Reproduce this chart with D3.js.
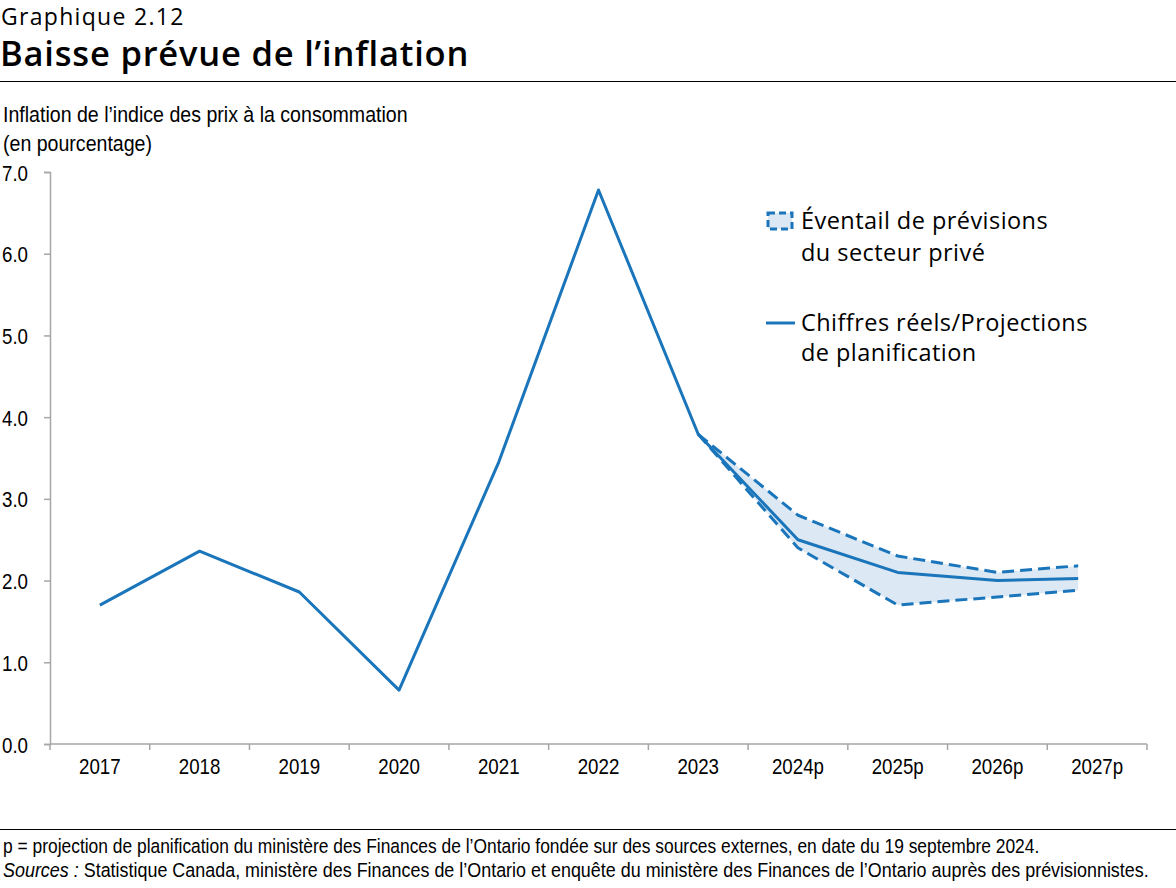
<!DOCTYPE html>
<html><head><meta charset="utf-8">
<script src="https://cdn.jsdelivr.net/npm/d3@7"></script>
<style>
html,body{margin:0;padding:0;background:#fff;}
svg{display:block;}
.narrow{font-family:"Liberation Sans",Arial,sans-serif;}
.geo{font-family:"Open Sans","Lato",sans-serif;}
</style></head>
<body>
<svg id="c" width="1176" height="888"></svg>
<script>
const categories = ["2017","2018","2019","2020","2021","2022","2023","2024p","2025p","2026p","2027p"];
const actualValues = [1.70, 2.36, 1.86, 0.66, 3.45, 6.78, 3.79, 2.50, 2.10, 2.00, 2.03];
const rangeCategories = ["2023","2024p","2025p","2026p","2027p"];
const rangeHigh = [3.79, 2.80, 2.30, 2.10, 2.20];
const rangeLow = [3.79, 2.40, 1.70, 1.80, 1.90];
const yTicks = [0,1,2,3,4,5,6,7];

const blue = "#1a75bb", fillBlue = "#dce8f4", axisGray = "#a6a6a6";
const svg = d3.select("#c");
const m = {left:50, right:1147, top:172, bottom:744};

function narrowText(parent, x, y, size, sx, txt){
  return parent.append("text").attr("class","narrow")
    .attr("transform",`translate(${x},${y}) scale(${sx},1)`)
    .attr("font-size",size).attr("fill","#000").text(txt);
}

// Titles
svg.append("text").attr("class","geo").attr("x",1).attr("y",25).attr("font-size",23)
  .attr("letter-spacing",1.3).attr("fill","#000").text("Graphique 2.12");
svg.append("text").attr("class","geo").attr("x",0).attr("y",66).attr("font-size",34.5)
  .attr("font-weight",600).attr("letter-spacing",0.8).attr("fill","#000").text("Baisse prévue de l’inflation");
svg.append("line").attr("x1",0).attr("x2",1176).attr("y1",81.5).attr("y2",81.5).attr("stroke","#000").attr("stroke-width",1);
narrowText(svg, 3, 122, 22.5, 0.87, "Inflation de l’indice des prix à la consommation");
narrowText(svg, 3, 151, 22.5, 0.87, "(en pourcentage)");

const x = d3.scaleBand().domain(categories).range([m.left, m.right]);
const y = d3.scaleLinear().domain([0,7]).range([m.bottom, m.top]);
const cx = c => x(c) + x.bandwidth()/2;

// Clip so the last segment ends short of the 2027p band centre as in the reference
svg.append("clipPath").attr("id","clip").append("rect")
  .attr("x", m.left).attr("y", m.top-20)
  .attr("width", cx("2027p") - x.bandwidth()*0.19 - m.left).attr("height", m.bottom - m.top + 40);

// Axes
const sx = 0.85;
const yAxis = svg.append("g").attr("transform",`translate(${m.left},0)`)
  .call(d3.axisLeft(y).tickValues(yTicks).tickFormat(d3.format(".1f")).tickSize(6).tickPadding(4));
yAxis.select(".domain").attr("stroke",axisGray).attr("stroke-width",1.5);
yAxis.selectAll(".tick line").attr("stroke",axisGray).attr("stroke-width",1.5);
yAxis.selectAll("text").attr("class","narrow").attr("font-size",22).attr("fill","#000")
  .attr("text-anchor","start").attr("x",0).attr("dy",null).attr("y",8)
  .attr("transform",`translate(-48,0) scale(${sx},1)`);

const xAxis = svg.append("g").attr("transform",`translate(0,${m.bottom})`)
  .call(d3.axisBottom(x).tickSize(0).tickPadding(0));
xAxis.select(".domain").remove();
xAxis.selectAll("text").attr("class","narrow").attr("font-size",22).attr("fill","#000")
  .attr("dy",null).attr("y",30).attr("transform",`scale(${sx},1)`);
svg.append("line").attr("x1",m.left).attr("x2",m.right).attr("y1",m.bottom).attr("y2",m.bottom)
  .attr("stroke",axisGray).attr("stroke-width",1.5);
svg.append("g").selectAll("line").data(categories.concat(["end"])).join("line")
  .attr("x1",(d,i)=> i<categories.length ? x(d) : m.right)
  .attr("x2",(d,i)=> i<categories.length ? x(d) : m.right)
  .attr("y1",m.bottom).attr("y2",m.bottom+6).attr("stroke",axisGray).attr("stroke-width",1.5);

// Series
const g = svg.append("g").attr("clip-path","url(#clip)");
const rangeData = rangeCategories.map((c,i)=>({c, hi:rangeHigh[i], lo:rangeLow[i]}));
g.append("path").datum(rangeData)
  .attr("d", d3.area().x(d=>cx(d.c)).y0(d=>y(d.lo)).y1(d=>y(d.hi)))
  .attr("fill", fillBlue);
const line = d3.line().x(d=>cx(d.c)).y(d=>y(d.v));
g.append("path").datum(rangeData.map(d=>({c:d.c,v:d.hi})))
  .attr("d", line).attr("fill","none").attr("stroke",blue).attr("stroke-width",3).attr("stroke-dasharray","12,6");
g.append("path").datum(rangeData.map(d=>({c:d.c,v:d.lo})))
  .attr("d", line).attr("fill","none").attr("stroke",blue).attr("stroke-width",3).attr("stroke-dasharray","12,6");
g.append("path").datum(categories.map((c,i)=>({c,v:actualValues[i]})))
  .attr("d", line).attr("fill","none").attr("stroke",blue).attr("stroke-width",3).attr("stroke-linejoin","round");

// Legend
const lg = svg.append("g");
lg.append("rect").attr("x",768).attr("y",213).attr("width",24).attr("height",16)
  .attr("fill",fillBlue).attr("stroke",blue).attr("stroke-width",3).attr("stroke-dasharray","7,4");
const legFont = 23.5, legLs = 0.45;
lg.append("text").attr("class","geo").attr("x",801).attr("y",229).attr("font-size",legFont).attr("letter-spacing",legLs).text("Éventail de prévisions");
lg.append("text").attr("class","geo").attr("x",801).attr("y",261).attr("font-size",legFont).attr("letter-spacing",legLs).text("du secteur privé");
lg.append("line").attr("x1",766).attr("x2",795).attr("y1",323).attr("y2",323).attr("stroke",blue).attr("stroke-width",3);
lg.append("text").attr("class","geo").attr("x",801).attr("y",331).attr("font-size",legFont).attr("letter-spacing",legLs).text("Chiffres réels/Projections");
lg.append("text").attr("class","geo").attr("x",801).attr("y",361).attr("font-size",legFont).attr("letter-spacing",legLs).text("de planification");

// Footer
svg.append("line").attr("x1",0).attr("x2",1176).attr("y1",829.5).attr("y2",829.5).attr("stroke","#000").attr("stroke-width",1);
narrowText(svg, 3, 853, 19.5, 0.893, "p = projection de planification du ministère des Finances de l’Ontario fondée sur des sources externes, en date du 19 septembre 2024.");
const src = narrowText(svg, 3, 877, 19.5, 0.92, "");
src.append("tspan").attr("font-style","italic").text("Sources :");
src.append("tspan").text(" Statistique Canada, ministère des Finances de l’Ontario et enquête du ministère des Finances de l’Ontario auprès des prévisionnistes.");
</script>
</body></html>
